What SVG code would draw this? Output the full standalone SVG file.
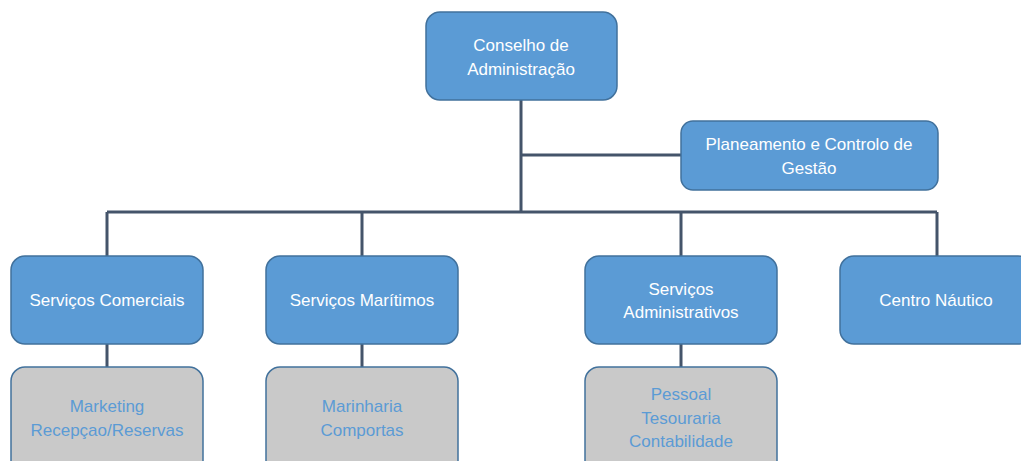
<svg xmlns="http://www.w3.org/2000/svg" width="1021" height="461" viewBox="0 0 1021 461">
<style>
.box{fill:#5b9bd5;stroke:#41719c;stroke-width:1.5}
.sub{fill:#c9c9c9;stroke:#41719c;stroke-width:1.5}
.t{font-family:"Liberation Sans",Arial,sans-serif;font-size:17px;fill:#ffffff;text-anchor:middle}
.ts{font-family:"Liberation Sans",Arial,sans-serif;font-size:17px;fill:#5b9bd5;text-anchor:middle}
.c{fill:none;stroke:#44546a;stroke-width:3}
</style>
<rect width="1021" height="461" fill="#ffffff"/>
<g id="connectors">
<path class="c" d="M521 100 V212 M521 155 H681 M107 212 H937 M107 212 V256 M362 212 V256 M681 212 V256 M937 212 V256 M107 344 V367 M362 344 V367 M681 344 V367"/>
</g>
<g id="conselho"><rect class="box" x="426" y="12" width="191" height="88" rx="14"/><text class="t" x="521" y="51">Conselho de</text><text class="t" x="521" y="75">Administração</text></g>
<g id="planeamento"><rect class="box" x="681" y="121" width="257" height="69" rx="12"/><text class="t" x="809" y="150">Planeamento e Controlo de</text><text class="t" x="809" y="174">Gestão</text></g>
<g id="comerciais"><rect class="box" x="11" y="256" width="192" height="88" rx="14"/><text class="t" x="107" y="306">Serviços Comerciais</text></g>
<g id="maritimos"><rect class="box" x="266" y="256" width="192" height="88" rx="14"/><text class="t" x="362" y="306">Serviços Marítimos</text></g>
<g id="administrativos"><rect class="box" x="585" y="256" width="192" height="88" rx="14"/><text class="t" x="681" y="295">Serviços</text><text class="t" x="681" y="318">Administrativos</text></g>
<g id="nautico"><rect class="box" x="840" y="256" width="192" height="88" rx="14"/><text class="t" x="936" y="306">Centro Náutico</text></g>
<g id="marketing"><rect class="sub" x="11" y="367" width="192" height="110" rx="14"/><text class="ts" x="107" y="412">Marketing</text><text class="ts" x="107" y="436">Recepçao/Reservas</text></g>
<g id="marinharia"><rect class="sub" x="266" y="367" width="192" height="110" rx="14"/><text class="ts" x="362" y="412">Marinharia</text><text class="ts" x="362" y="436">Comportas</text></g>
<g id="pessoal"><rect class="sub" x="585" y="367" width="192" height="110" rx="14"/><text class="ts" x="681" y="400">Pessoal</text><text class="ts" x="681" y="424">Tesouraria</text><text class="ts" x="681" y="447">Contabilidade</text></g>
</svg>
